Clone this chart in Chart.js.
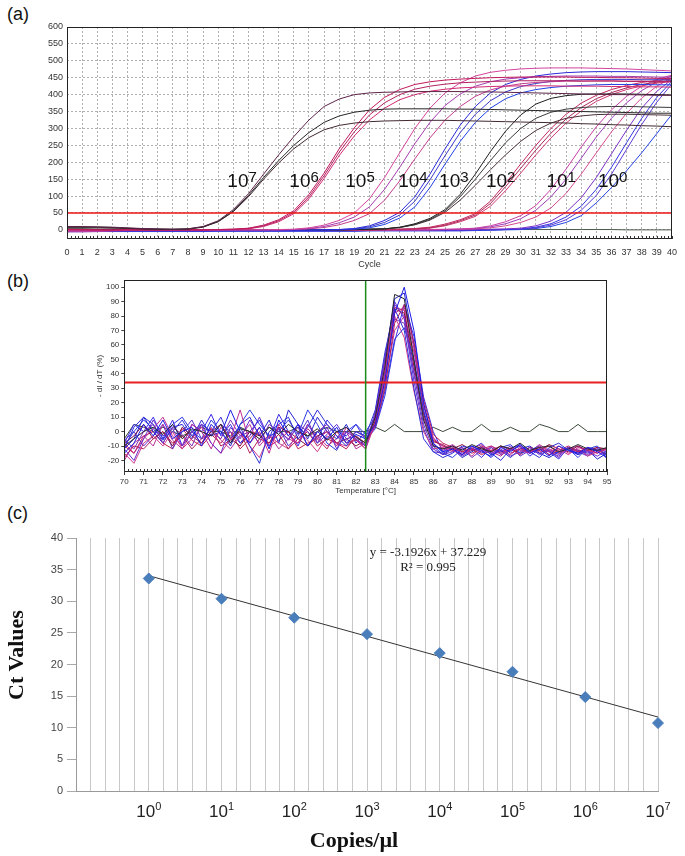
<!DOCTYPE html>
<html>
<head>
<meta charset="utf-8">
<script src="https://cdn.jsdelivr.net/npm/chart.js@4.4.1/dist/chart.umd.min.js"></script>
<style>
  body { margin: 0; background: #fff; }
  #page { position: relative; width: 685px; height: 856px; overflow: hidden; background: #fff; }
  canvas { position: absolute; left: 0; }
  .lbl { position: absolute; font: 18px "Liberation Sans", Arial, sans-serif; line-height: 20px; color: #111; }
  .serif { position: absolute; font-family: "Liberation Serif", "Times New Roman", serif; color: #222; text-align: center; }
</style>
</head>
<body>
<div id="page">
  <div class="lbl" style="left:7px;top:4px">(a)</div>
  <div class="lbl" style="left:7px;top:271px">(b)</div>
  <div class="lbl" style="left:7px;top:503px">(c)</div>

  <canvas id="ampChart" width="685" height="275" style="top:0"></canvas>
  <canvas id="meltChart" width="685" height="230" style="top:270px"></canvas>
  <canvas id="stdChart" width="685" height="351" style="top:505px"></canvas>

  <div class="serif" style="left:328px;top:544px;width:200px;font-size:13px;line-height:16px">y = -3.1926x + 37.229</div>
  <div class="serif" style="left:328px;top:559px;width:200px;font-size:13px;line-height:16px">R² = 0.995</div>
  <div class="serif" style="left:-84px;top:642px;width:200px;height:26px;font-size:22px;line-height:26px;font-weight:bold;color:#111;transform:rotate(-90deg)">Ct Values</div>
  <div class="serif" style="left:254px;top:827px;width:200px;font-size:22px;line-height:26px;font-weight:bold;color:#111">Copies/µl</div>
</div>

<script>
// ---------- (a) amplification curves ----------
const cycles = [0,1,2,3,4,5,6,7,8,9,10,11,12,13,14,15,16,17,18,19,20,21,22,23,24,25,26,27,28,29,30,31,32,33,34,35,36,37,38,39,40];
const ampTicksY = [0,50,100,150,200,250,300,350,400,450,500,550,600];
const threshold = 50;

// 10^7
const amp7a = [10,10,9,8,6,4,3,2,3,10, 27,60,107,165,222,276,325,365,387,400, 405,407,408,409,409,409,409,408,408,407, 406,405,404,403,402,401,400,400,399,398, 398];
const amp7b = [8,8,8,7,5,3,2,2,3,9, 25,56,102,155,205,250,288,318,337,348, 354,357,358,358,358,358,357,357,356,355, 354,353,352,351,350,349,348,347,346,345, 345];
const amp7c = [6,6,6,5,4,3,2,1,2,8, 24,54,98,150,198,240,273,296,309,316, 320,322,323,324,324,324,323,322,321,320, 319,318,317,316,314,313,311,310,308,307, 305];
// 10^6
const amp6a = [2,1,0,-1,0,0,0,0,0,0, 1,2,5,14,30,57,105,168,240,302, 355,392,415,430,438,443,446,448,450,451, 452,452,452,452,451,451,450,450,449,448, 448];
const amp6b = [1,0,0,0,0,0,-1,0,0,0, 1,2,4,12,27,52,98,160,230,290, 340,376,400,416,425,431,435,437,439,440, 441,441,441,441,440,440,440,439,439,438, 438];
const amp6c = [0,0,-1,-1,0,0,0,0,0,0, 0,1,3,10,24,48,92,152,220,278, 325,360,385,400,410,416,420,422,424,425, 426,426,426,425,425,425,424,424,423,423, 422];
// 10^5
const amp5a = [-3,-4,-3,-2,-1,0,0,0,0,0, 0,0,0,0,1,2,6,14,28,50, 92,155,228,300,360,405,435,455,466,472, 476,478,479,479,479,478,477,476,474,472, 470];
const amp5b = [-5,-6,-5,-3,-2,-1,0,0,0,0, 0,0,0,0,0,1,4,10,21,38, 68,120,185,255,318,368,402,425,438,446, 450,453,454,455,455,455,454,454,453,452, 452];
const amp5c = [-2,-3,-3,-2,-1,0,0,0,0,0, 0,0,0,0,0,1,3,7,15,28, 48,88,145,210,272,325,365,395,414,425, 432,436,438,440,440,441,441,440,440,439, 439];
// 10^4
const amp4a = [-4,-4,-3,-3,-2,-2,-2,-2,-2,-2, -2,-2,-2,-2,-2,-1,-1,0,1,4, 12,28,52,98,165,240,310,365,405,430, 445,455,461,465,467,468,468,468,467,466, 465];
const amp4b = [-3,-3,-3,-2,-2,-2,-2,-2,-2,-2, -2,-2,-2,-2,-2,-1,-1,0,1,3, 9,22,44,85,148,220,288,342,382,408, 424,433,439,442,444,445,445,445,444,444, 443];
const amp4c = [-2,-2,-2,-2,-2,-2,-2,-2,-2,-2, -2,-2,-2,-2,-2,-1,-1,0,0,2, 6,16,35,68,125,195,262,318,360,388, 405,415,421,425,427,429,430,430,430,429, 429];
// 10^3
const amp3a = [0,0,0,1,1,1,0,0,0,0, 0,0,0,0,0,0,0,0,0,1, 2,3,8,18,34,60,105,165,232,292, 340,372,389,397,401,402,402,402,401,400, 399];
const amp3b = [1,1,1,1,0,0,0,0,0,0, 0,0,0,0,0,0,0,0,0,1, 2,3,7,16,31,56,98,150,205,258, 300,330,348,357,362,364,365,365,364,363, 362];
const amp3c = [2,2,1,1,0,0,0,0,0,0, 0,0,0,0,0,0,0,0,0,1, 2,3,7,15,29,52,88,132,178,222, 262,294,316,330,337,341,342,342,341,340, 339];
// 10^2
const amp2a = [0,0,0,0,0,0,0,0,0,0, 0,0,0,0,0,0,0,0,0,0, 0,1,2,4,8,17,30,48,85,138, 195,250,300,342,375,398,415,427,436,442, 446];
const amp2b = [-1,-1,0,0,0,0,0,0,0,0, 0,0,0,0,0,0,0,0,0,0, 0,1,2,3,6,14,27,44,78,128, 182,236,286,328,362,388,406,420,430,437, 442];
const amp2c = [-2,-2,-1,0,0,0,0,0,0,0, 0,0,0,0,0,0,0,0,0,0, 0,0,1,2,5,12,24,40,70,116, 168,222,272,316,352,380,400,415,426,434, 439];
// 10^1
const amp1a = [0,0,0,0,0,0,0,0,0,0, 0,0,0,0,0,0,0,0,0,0, 0,0,0,0,1,2,3,5,12,24, 42,72,120,180,245,305,355,395,425,445, 458];
const amp1b = [-1,-1,0,0,0,0,0,0,0,0, 0,0,0,0,0,0,0,0,0,0, 0,0,0,0,0,1,2,4,9,18, 33,58,98,150,212,275,330,376,412,438, 455];
const amp1c = [-3,-2,-1,0,0,0,0,0,0,0, 0,0,0,0,0,0,0,0,0,0, 0,0,0,0,0,1,1,3,6,12, 22,38,65,108,165,228,290,345,390,425, 450];
// 10^0
const amp0a = [-6,-5,-4,-3,-2,-1,0,0,0,0, 0,0,0,0,0,0,0,0,0,0, 0,0,0,0,0,0,0,1,2,3, 5,12,26,52,95,155,225,295,360,410, 445];
const amp0b = [-3,-3,-3,-3,-3,-3,-3,-3,-3,-3, -3,-3,-3,-3,-3,-3,-3,-3,-3,-3, -2,-2,-2,-2,-2,-2,-2,-1,0,1, 3,8,18,38,70,120,185,258,330,392, 440];
const amp0c = [-4,-4,-4,-4,-4,-4,-4,-4,-4,-4, -3,-3,-3,-3,-3,-3,-3,-3,-3,-3, -2,-2,-2,-2,-2,-2,-1,0,0,1, 2,6,14,30,58,102,165,238,312,378, 432];
const amp0d = [-5,-5,-5,-5,-5,-5,-5,-5,-5,-5, -4,-4,-4,-4,-4,-4,-4,-4,-4,-4, -3,-3,-3,-3,-3,-3,-3,-2,-1,0, 1,4,10,22,42,80,125,175,228,285, 342];
// no-template control
const ampNtc = [3,3,2,2,2,1,1,1,1,1, 1,1,1,1,1,1,1,1,1,1, 1,1,1,1,1,1,1,1,1,1, 1,1,1,1,1,1,1,0,0,0, 0];

// dilution labels (10^n) placed in data units
const labelCycles = [10.6, 14.7, 18.4, 21.9, 24.6, 27.7, 31.7, 35.1];
const labelValues = [127, 127, 127, 127, 127, 127, 127, 127];
const labelExps = ['7', '6', '5', '4', '3', '2', '1', '0'];

// ---------- (b) melt curves ----------
const meltTemps = [70,70.5,71,71.5,72,72.5,73,73.5,74,74.5,75,75.5,76,76.5,77,77.5,78,78.5,79,79.5,80,80.5,81,81.5,82,82.5,83,83.5,84,84.5,85,85.5,86,86.5,87,87.5,88,88.5,89,89.5,90,90.5,91,91.5,92,92.5,93,93.5,94,94.5,95];
const meltTicksX = [70,71,72,73,74,75,76,77,78,79,80,81,82,83,84,85,86,87,88,89,90,91,92,93,94,95];
const meltTicksY = [-20,-10,0,10,20,30,40,50,60,70,80,90,100];
const meltThreshold = 34;
const meltCutoff = 82.5;

const melt1 = [-15,-8,5,-3,8,-5,0,3,-10,5, -2,15,0,-8,3,-12,8,-3,5,-10, 0,-5,3,-8,-2,-5, 5,35,82,100,70,20,-8, -14,-12,-16,-10,-13,-18,-11,-14,-9,-15,-12,-17,-10,-13,-15,-11,-14,-18];
const melt2 = [-10,-5,0,3,-2,5,-5,2,0,-3, 5,-8,2,0,-5,3,-2,5,0,-3, 2,-6,0,3,-4,-8, 10,45,95,92,50,8,-10, -12,-10,-13,-9,-12,-14,-10,-12,-8,-13,-11,-10,-14,-12,-9,-12,-13,-11];
const melt3 = [-12,-20,-5,8,-3,2,-10,0,5,-8, -15,3,-5,8,-2,-10,2,-6,5,0, -8,3,-12,0,-5,-10, 12,50,88,80,40,5,-12, -16,-14,-11,-18,-13,-15,-12,-17,-14,-11,-16,-13,-18,-12,-15,-14,-17,-13];
const melt4 = [-8,-15,-5,2,10,-3,-10,5,0,-12, 3,-5,15,-8,0,-15,5,-3,-8,2, -5,0,-10,3,-6,-12, 6,38,82,86,58,18,-5, -10,-13,-16,-12,-9,-14,-17,-11,-13,-15,-10,-14,-12,-16,-11,-13,-15,-12];
const melt5 = [-12,3,10,5,-5,0,8,-3,5,0, 10,-5,3,-10,-22,0,5,10,-5,3, 15,5,-3,-10,0,-3, 15,55,85,70,30,-5,-14, -18,-15,-10,-12,-8,-15,-20,-12,-9,-14,-18,-11,-8,-13,-16,-12,-10,-19];
const melt6 = [-18,-10,-12,-5,0,-8,-3,-12,-5,2, -10,-6,0,-15,-5,-8,-2,-12,-5,0, -10,-5,-8,-12,-3,-8, 4,30,75,88,62,22,-2, -8,-11,-14,-12,-16,-13,-10,-15,-12,-14,-11,-16,-13,-10,-14,-12,-15,-11];
const melt7 = [-5,-12,0,5,-8,3,-2,-10,5,0, -5,8,-3,0,-8,5,0,-5,3,-10, 0,5,-3,-6,0,-4, 9,40,78,75,42,10,-9, -13,-10,-15,-12,-14,-11,-16,-13,-10,-15,-12,-14,-17,-11,-13,-16,-12,-14];
const melt8 = [-10,0,8,2,-6,5,10,0,-5,8, 0,-8,5,15,5,-3,0,8,-2,15, 5,-8,-13,0,5,-2, 3,28,64,72,50,15,-8, -15,-18,-12,-10,-14,-17,-11,-9,-15,-13,-10,-16,-14,-12,-18,-11,-13,-15];
const melt9 = [-15,-22,-8,-3,-10,0,-12,-5,3,-8, -15,-5,0,-10,-18,-3,-8,-12,0,-6, -14,-3,-8,-10,-5,-12, 12,48,80,65,28,0,-12, -11,-14,-12,-17,-10,-13,-15,-12,-16,-11,-14,-13,-10,-15,-12,-17,-14,-12];
const melt10 = [-8,-3,5,-5,0,-10,3,-3,-8,0, 5,-5,-10,0,-3,-8,3,0,-5,-10, -3,0,-8,-5,-10,-6, 7,36,85,82,45,12,-6, -10,-12,-9,-13,-11,-14,-10,-12,-15,-11,-13,-9,-12,-14,-10,-13,-11,-12];
const melt11 = [-12,-5,10,0,-8,3,5,-5,8,-3, 0,-10,5,10,-3,8,-8,15,5,-5, 10,0,-5,5,-8,0, 10,48,92,96,60,14,-10, -16,-12,-18,-14,-10,-16,-13,-18,-12,-10,-15,-18,-14,-11,-16,-13,-19,-15];
const melt12 = [-20,-8,-3,-10,5,-6,-12,0,-8,3, -6,-12,-3,5,-10,-2,-12,-5,-8,5, -3,-10,-5,0,-12,-8, 4,32,70,80,55,18,-4, -12,-9,-14,-11,-15,-10,-13,-16,-11,-14,-9,-13,-15,-12,-10,-14,-11,-13];
const melt13 = [-6,0,-10,-3,5,-12,0,8,-5,-2, 5,0,-8,-3,10,-5,3,-10,-3,8, -8,-2,5,-5,-3,-10, 14,52,90,78,35,2,-14, -15,-12,-17,-13,-11,-16,-14,-10,-17,-13,-15,-12,-16,-11,-14,-17,-12,-16];
const melt14 = [-10,-15,-3,0,-8,-12,2,-6,-10,-2, -8,0,-12,-5,3,-10,-6,0,-12,-8, -5,-12,0,-8,-6,-10, 8,42,86,84,48,10,-7, -9,-13,-11,-15,-12,-10,-14,-12,-16,-11,-13,-10,-15,-12,-14,-11,-13,-16];
const melt15 = [-8,5,0,10,-5,8,-10,5,0,12, -3,5,-8,0,8,-5,12,0,-10,5, -5,8,0,-3,5,-6, 2,25,62,88,66,24,0, -14,-10,-16,-12,-18,-11,-15,-13,-10,-17,-12,-14,-19,-11,-13,-15,-12,-17];
const meltNtc = [-5,5,3,0,3,0,-3,0,3,0, 0,-3,3,0,-2,3,0,0,3,-3, 0,3,0,0,0,0, 3,0,5,0,0,0,3, 0,3,0,0,5,0,0,3,0,0,5,3,0,0,5,0,0,0];

// ---------- (c) standard curve ----------
const copies = [1, 10, 100, 1e3, 1e4, 1e5, 1e6, 1e7];
const ctValues = [33.6, 30.4, 27.4, 24.8, 21.8, 18.85, 14.85, 10.74];
const trendX = [1, 1e7];
const trendY = [34.04, 11.69];
const decades = [-1, 0, 1, 2, 3, 4, 5, 6, 7];
const gridPerDecade = 5;

Chart.defaults.font.family = '"Liberation Sans", Arial, Helvetica, sans-serif';
Chart.defaults.color = '#333';

const pts = (xs, ys) => ys.map((y, i) => ({ x: xs[i], y: y }));
const line = (xs, ys, color, width) => ({
    data: pts(xs, ys), borderColor: color, borderWidth: width || 1,
    pointRadius: 0, fill: false, tension: 0
});

// black frame round the plot area
const framePlugin = {
    id: 'frame',
    afterDatasetsDraw(chart) {
        const a = chart.chartArea, ctx = chart.ctx;
        ctx.save();
        ctx.strokeStyle = '#222';
        ctx.lineWidth = 1;
        ctx.strokeRect(Math.round(a.left) + 0.5, Math.round(a.top) + 0.5,
            Math.round(a.right - a.left) - 1, Math.round(a.bottom - a.top) - 1);
        ctx.restore();
    }
};

// small inward ticks on the x axis
const minorTicks = (step, len) => ({
    id: 'minorTicks',
    afterDatasetsDraw(chart) {
        const xs = chart.scales.x, a = chart.chartArea, ctx = chart.ctx;
        ctx.save();
        ctx.strokeStyle = '#333';
        ctx.lineWidth = 1;
        ctx.beginPath();
        for (let v = xs.min; v <= xs.max + 1e-9; v += step) {
            const px = Math.round(xs.getPixelForValue(v)) + 0.5;
            ctx.moveTo(px, a.bottom);
            ctx.lineTo(px, a.bottom - len);
        }
        ctx.stroke();
        ctx.restore();
    }
});

// "10" with a raised exponent
function drawPower(ctx, x, y, exp, big, small, rise, align) {
    ctx.font = big + 'px "Liberation Sans", Arial, sans-serif';
    const w = ctx.measureText('10').width;
    ctx.font = small + 'px "Liberation Sans", Arial, sans-serif';
    const we = ctx.measureText(exp).width;
    const x0 = align === 'center' ? x - (w + we) / 2 : x;
    ctx.font = big + 'px "Liberation Sans", Arial, sans-serif';
    ctx.fillText('10', x0, y);
    ctx.font = small + 'px "Liberation Sans", Arial, sans-serif';
    ctx.fillText(exp, x0 + w, y - rise);
}

// "10^n" labels of panel (a)
const powerLabels = {
    id: 'powerLabels',
    afterDatasetsDraw(chart) {
        const ctx = chart.ctx, sx = chart.scales.x, sy = chart.scales.y;
        ctx.save();
        ctx.fillStyle = '#111';
        ctx.textBaseline = 'alphabetic';
        ctx.textAlign = 'left';
        labelCycles.forEach((c, i) => {
            drawPower(ctx, sx.getPixelForValue(c), sy.getPixelForValue(labelValues[i]), labelExps[i], 19, 15, 5, 'left');
        });
        ctx.restore();
    }
};

// decade labels of panel (c)
const decadeLabels = {
    id: 'decadeLabels',
    afterDraw(chart) {
        const ctx = chart.ctx, sx = chart.scales.x, a = chart.chartArea;
        ctx.save();
        ctx.fillStyle = '#222';
        ctx.textBaseline = 'alphabetic';
        ctx.textAlign = 'left';
        decades.filter(d => d >= 0).forEach(d => {
            drawPower(ctx, sx.getPixelForValue(Math.pow(10, d)), a.bottom + 26, String(d), 17, 11, 7, 'center');
        });
        ctx.restore();
    }
};

// ----- chart (a) -----
const ampSeries = [
    [amp7a, '#5c2348'], [amp7b, '#262626'], [amp7c, '#40282f'],
    [amp6a, '#c0185c'], [amp6b, '#b22060'], [amp6c, '#d02a72'],
    [amp5a, '#d4449c'], [amp5b, '#a33cae'], [amp5c, '#c23c8e'],
    [amp4a, '#2b2bd8'], [amp4b, '#3a3ac8'], [amp4c, '#2040e8'],
    [amp3a, '#1f1f1f'], [amp3b, '#3a3a3a'], [amp3c, '#4a3038'],
    [amp2a, '#c0285f'], [amp2b, '#a8285a'], [amp2c, '#d2386e'],
    [amp1a, '#c83ca4'], [amp1b, '#9c3cb8'], [amp1c, '#d44a90'],
    [amp0a, '#7a30c4'], [amp0b, '#3434e4'], [amp0c, '#5a3ad4'], [amp0d, '#2244e0'],
    [ampNtc, '#4a5a48']
];

new Chart(document.getElementById('ampChart'), {
    type: 'line',
    data: {
        datasets: [line([0, 40], [threshold, threshold], '#ee1515', 1.6)]
            .concat(ampSeries.map(s => line(cycles, s[0], s[1], 1)))
    },
    options: {
        responsive: false, animation: false, devicePixelRatio: 1,
        layout: { padding: { top: 27, right: 5, left: 0, bottom: 0 } },
        plugins: { legend: { display: false }, tooltip: { enabled: false } },
        scales: {
            x: {
                type: 'linear', min: 0, max: 40,
                afterBuildTicks: s => { s.ticks = cycles.map(v => ({ value: v })); },
                afterFit: s => { s.height = 36; },
                ticks: { font: { size: 9 }, color: '#333', padding: 8, autoSkip: false, maxRotation: 0 },
                grid: { color: '#b0b0b0', drawTicks: false },
                border: { display: false, dash: [2, 2] },
                title: { display: true, text: 'Cycle', font: { size: 9 }, color: '#333', padding: { top: 0, bottom: 5 } }
            },
            y: {
                min: -27, max: 600,
                afterBuildTicks: s => { s.ticks = ampTicksY.map(v => ({ value: v })); },
                afterFit: s => { s.width = 67; },
                ticks: { font: { size: 9 }, color: '#333', padding: 4, autoSkip: false },
                grid: { color: '#b0b0b0', drawTicks: false },
                border: { display: false, dash: [2, 2] }
            }
        }
    },
    plugins: [framePlugin, minorTicks(0.25, 3), powerLabels]
});

// ----- chart (b) -----
const meltSeries = [
    [melt1, '#1a1ae6'], [melt2, '#2a2a2a'], [melt3, '#6a2ccc'], [melt4, '#c02a90'],
    [melt5, '#3030d8'], [melt6, '#b41e5a'], [melt7, '#8030b8'], [melt8, '#2a3ae0'],
    [melt9, '#d03a8a'], [melt10, '#801040'], [melt11, '#2424d0'], [melt12, '#b8309a'],
    [melt13, '#5a30d0'], [melt14, '#c02050'], [melt15, '#3a2ae8'], [meltNtc, '#3c4a3c']
];

new Chart(document.getElementById('meltChart'), {
    type: 'line',
    data: {
        datasets: [
            line([meltCutoff, meltCutoff], [-28, 105], '#1a8a1a', 1.5),
            line([70, 95], [meltThreshold, meltThreshold], '#e82020', 2)
        ].concat(meltSeries.map(s => line(meltTemps, s[0], s[1], 1)))
    },
    options: {
        responsive: false, animation: false, devicePixelRatio: 1,
        layout: { padding: { top: 10, right: 78, left: 90, bottom: 0 } },
        plugins: { legend: { display: false }, tooltip: { enabled: false } },
        scales: {
            x: {
                type: 'linear', min: 70, max: 95,
                afterBuildTicks: s => { s.ticks = meltTicksX.map(v => ({ value: v })); },
                afterFit: s => { s.height = 28; },
                ticks: { font: { size: 8 }, color: '#333', padding: 2, autoSkip: false, maxRotation: 0 },
                grid: { drawOnChartArea: false, tickLength: 3, color: '#444' },
                border: { display: false },
                title: { display: true, text: 'Temperature [°C]', font: { size: 8 }, color: '#333', padding: { top: 0, bottom: 4 } }
            },
            y: {
                min: -28, max: 105,
                afterBuildTicks: s => { s.ticks = meltTicksY.map(v => ({ value: v })); },
                afterFit: s => { s.width = 34.3; },
                ticks: { font: { size: 8 }, color: '#333', padding: 2, autoSkip: false },
                grid: { drawOnChartArea: false, tickLength: 3, color: '#444' },
                border: { display: false },
                title: { display: true, text: '- dI / dT (%)', font: { size: 8 }, color: '#333', padding: { top: 5, bottom: 0 } }
            }
        }
    },
    plugins: [framePlugin, minorTicks(0.2, 3)]
});

// ----- chart (c) -----
const gridExps = [];
decades.forEach(d => {
    if (d === decades[decades.length - 1]) { gridExps.push(d); return; }
    for (let k = 0; k < gridPerDecade; k++) gridExps.push(d + k / gridPerDecade);
});

new Chart(document.getElementById('stdChart'), {
    type: 'scatter',
    data: {
        datasets: [
            {
                data: pts(copies, ctValues), pointStyle: 'rectRot', pointRadius: 5.5,
                backgroundColor: '#4a7ebb', borderColor: '#4a7ebb', borderWidth: 1, clip: false
            },
            Object.assign(line(trendX, trendY, '#333', 1), { type: 'line', showLine: true })
        ]
    },
    options: {
        responsive: false, animation: false, devicePixelRatio: 1,
        layout: { padding: { top: 33, right: 27, left: 0, bottom: 0 } },
        plugins: { legend: { display: false }, tooltip: { enabled: false } },
        scales: {
            x: {
                type: 'logarithmic', min: 0.1, max: 1e7,
                afterBuildTicks: s => { s.ticks = gridExps.map(e => ({ value: Math.pow(10, e) })); },
                afterFit: s => { s.height = 65; },
                ticks: { autoSkip: false, maxRotation: 0, callback: () => '' },
                grid: { color: '#c8c8c8', drawTicks: false },
                border: { color: '#9a9a9a' }
            },
            y: {
                min: 0, max: 40,
                afterFit: s => { s.width = 76; },
                ticks: { stepSize: 5, font: { size: 11 }, color: '#444', padding: 4 },
                grid: { drawOnChartArea: false, tickLength: 9, color: '#aaa' },
                border: { color: '#9a9a9a' }
            }
        }
    },
    plugins: [decadeLabels]
});
</script>
</body>
</html>
